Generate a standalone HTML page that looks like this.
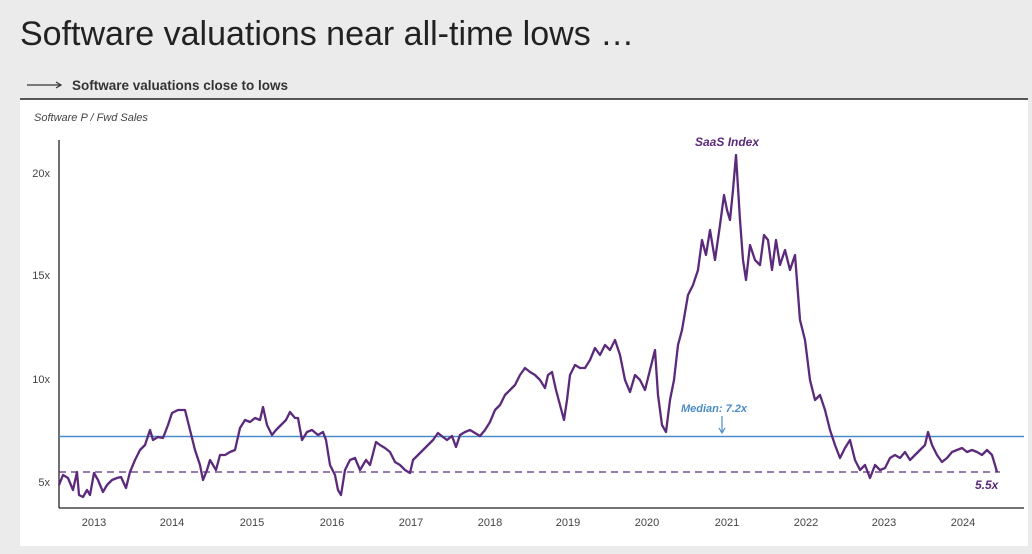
<!DOCTYPE html>
<html><head><meta charset="utf-8"><style>
body{margin:0;background:#ebebeb;width:1032px;height:554px;overflow:hidden;font-family:"Liberation Sans",sans-serif;}
</style></head><body>
<svg width="1032" height="554" xmlns="http://www.w3.org/2000/svg" style="position:absolute;left:0;top:0">
<rect x="0" y="0" width="1032" height="554" fill="#ebebeb"/>
<text x="20" y="45" font-size="34" fill="#222" font-family="Liberation Sans">Software valuations near all-time lows …</text>
<line x1="27" y1="85" x2="60" y2="85" stroke="#333" stroke-width="1.2"/>
<path d="M56 82 L61 85 L56 88" fill="none" stroke="#333" stroke-width="1.2"/>
<text x="72" y="90" font-size="13.5" font-weight="bold" fill="#333">Software valuations close to lows</text>
<rect x="20" y="99" width="1008" height="447" fill="#fff"/>
<line x1="20" y1="99" x2="1028" y2="99" stroke="#222" stroke-width="1.5"/>
<text x="34" y="121" font-size="11" font-style="italic" fill="#444">Software P / Fwd Sales</text>
<line x1="59" y1="140" x2="59" y2="508" stroke="#222" stroke-width="1.3"/>
<line x1="59" y1="508" x2="1024" y2="508" stroke="#222" stroke-width="1.3"/>
<g font-size="11" fill="#444" text-anchor="end">
<text x="50" y="177">20x</text><text x="50" y="279">15x</text><text x="50" y="383">10x</text><text x="50" y="486">5x</text>
</g>
<g font-size="11" fill="#444" text-anchor="middle">
<text x="94" y="526">2013</text><text x="172" y="526">2014</text><text x="252" y="526">2015</text><text x="332" y="526">2016</text><text x="411" y="526">2017</text><text x="490" y="526">2018</text><text x="568" y="526">2019</text><text x="647" y="526">2020</text><text x="727" y="526">2021</text><text x="806" y="526">2022</text><text x="884" y="526">2023</text><text x="963" y="526">2024</text>
</g>
<line x1="59" y1="436.5" x2="1024" y2="436.5" stroke="#4a8cc8" stroke-width="1.5"/>
<line x1="59" y1="472" x2="1000" y2="472" stroke="#5b2a7a" stroke-width="1.3" stroke-dasharray="7,5"/>
<polyline fill="none" stroke="#5b2a7a" stroke-width="2.3" stroke-linejoin="round" points="59,485 63,475 68,478 73,490 77,472 79,495 83,497 87,490 90,495 94,473 98,480 103,492 107,485 112,480 117,478 121,477 126,488 130,472 135,460 140,450 145,445 150,430 153,440 158,437 163,438 168,425 172,413 178,410 185,410 190,430 195,450 200,465 203,480 207,470 210,460 213,465 216,470 220,455 225,455 230,452 235,450 240,428 245,420 250,422 255,418 260,420 263,407 267,425 272,435 276,430 281,425 286,420 290,412 295,418 298,418 302,440 307,432 312,430 318,435 323,432 326,440 330,465 335,475 338,490 341,495 345,470 350,460 355,458 360,470 366,460 370,465 376,442 380,445 385,448 390,452 395,462 400,465 405,470 410,473 413,460 418,455 423,450 428,445 433,440 438,433 443,437 447,440 452,436 456,447 460,435 465,432 470,430 475,433 480,436 485,430 490,422 495,410 500,405 505,395 510,390 515,385 520,375 525,368 530,372 535,375 540,380 545,388 548,375 552,372 556,390 560,405 564,420 567,400 570,375 575,365 580,368 585,368 590,360 595,348 600,355 605,345 610,350 615,340 620,355 625,380 630,392 635,375 640,380 645,390 650,370 655,350 658,395 662,425 666,432 670,400 674,380 678,345 682,330 688,295 693,285 698,270 702,240 706,255 710,230 715,260 720,225 724,195 727,210 730,220 733,190 736,155 740,220 743,260 746,280 750,245 755,260 760,265 764,235 768,240 772,270 776,240 780,265 785,250 790,270 795,255 800,320 805,340 810,380 815,400 820,395 825,410 830,430 835,445 840,458 845,448 850,440 855,460 860,470 865,465 870,478 875,465 880,470 885,468 890,458 895,455 900,458 905,452 910,460 915,455 920,450 925,445 928,432 932,445 937,455 942,462 947,458 952,452 957,450 962,448 967,452 972,450 977,452 982,455 987,450 992,455 995,465 997,472"/>
<text x="695" y="146" font-size="12" font-weight="bold" font-style="italic" fill="#5b2a7a">SaaS Index</text>
<text x="681" y="412" font-size="11" font-weight="bold" font-style="italic" fill="#4a8cc8">Median: 7.2x</text>
<line x1="722" y1="416" x2="722" y2="432" stroke="#4a8cc8" stroke-width="1.2"/>
<path d="M719 428 L722 433 L725 428" fill="none" stroke="#4a8cc8" stroke-width="1.2"/>
<text x="975" y="489" font-size="12" font-weight="bold" font-style="italic" fill="#5b2a7a">5.5x</text>
</svg>
</body></html>
